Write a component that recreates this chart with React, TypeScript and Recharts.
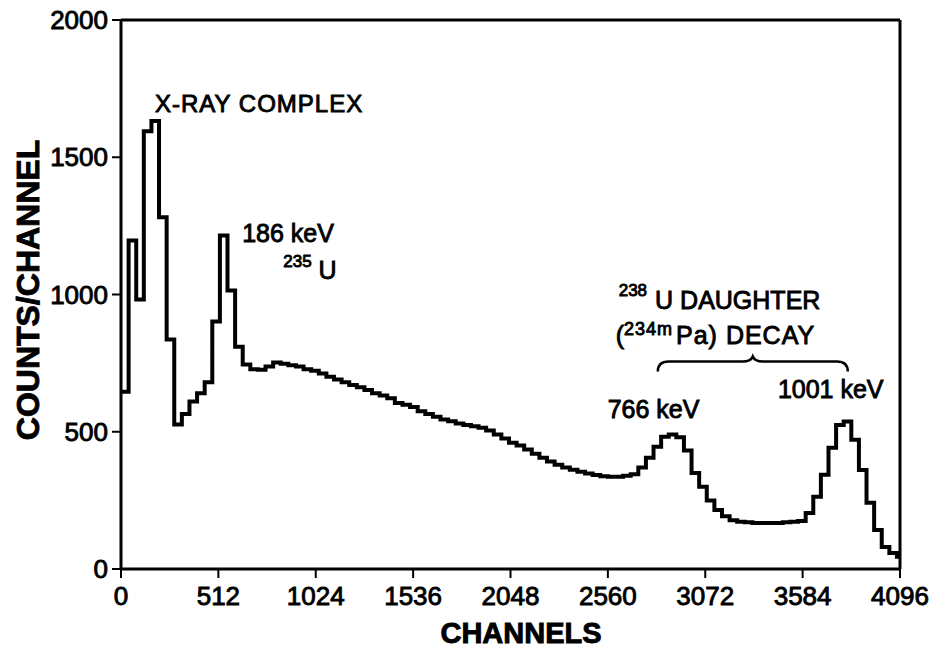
import { LineChart, Line, XAxis, YAxis, ReferenceLine, ReferenceDot, Label } from 'recharts';

// histogram bin width, in channels
const BIN = 40;

// counts per bin (bins of 40 channels starting at 0)
const COUNTS = [
  646, 1197, 982, 1595, 1632, 1281, 836, 526, 565, 610,
  640, 680, 902, 1215, 1015, 810, 745, 728, 726, 738,
  752, 748, 742, 738, 728, 722, 712, 700, 690, 680,
  670, 662, 652, 640, 632, 622, 605, 598, 590, 575,
  565, 555, 545, 538, 530, 525, 520, 515, 505, 490,
  475, 460, 450, 435, 420, 405, 392, 380, 370, 362,
  354, 348, 342, 338, 336, 336, 340, 345, 370, 405,
  445, 482, 490, 480, 432, 350, 300, 250, 215, 192,
  178, 172, 170, 168, 168, 168, 168, 170, 172, 175,
  204, 263, 343, 442, 525, 537, 471, 361, 241, 142,
  80, 58, 45,
];

const X_TICKS = [0, 512, 1024, 1536, 2048, 2560, 3072, 3584, 4096];
const Y_TICKS = [0, 500, 1000, 1500, 2000];

const data = COUNTS.map((v, i) => ({ ch: i * BIN, v }));
// close the last step at the end of the axis
data.push({ ch: 4096, v: COUNTS[COUNTS.length - 1] });

const FONT = '"Liberation Sans", Arial, Helvetica, sans-serif';
const ink = { fontFamily: FONT, fill: '#000', stroke: '#000', strokeWidth: 0.9 };

const tickStyle = { ...ink, fontSize: 26 };

function Brace({ cx, cy }: any) {
  const d = `M${cx - 95},${cy + 10} Q${cx - 95},${cy} ${cx - 84},${cy} L${cx - 10},${cy} Q${cx - 2},${cy} ${cx},${cy - 5} Q${cx + 2},${cy} ${cx + 10},${cy} L${cx + 84},${cy} Q${cx + 95},${cy} ${cx + 95},${cy + 10}`;
  return <path d={d} fill="none" stroke="#000" strokeWidth={2.5} />;
}

export default function App() {
  return (
    <div style={{ position: 'absolute', left: 0, top: 0, background: '#fff' }}>
      <LineChart width={936} height={653} data={data} margin={{ top: 20, right: 36, bottom: 0, left: 0 }}>
        <XAxis
          dataKey="ch"
          type="number"
          domain={[0, 4096]}
          ticks={X_TICKS}
          allowDataOverflow
          height={84}
          axisLine={{ stroke: '#000', strokeWidth: 3 }}
          tickLine={{ stroke: '#000', strokeWidth: 2 }}
          tickSize={9}
          tickMargin={9}
          tick={tickStyle}
        >
          <Label
            content={() => (
              <text x={521} y={643} textAnchor="middle" fontSize={29} fontWeight="bold" {...ink}>
                CHANNELS
              </text>
            )}
          />
        </XAxis>
        <YAxis
          type="number"
          domain={[0, 2000]}
          ticks={Y_TICKS}
          width={121}
          axisLine={{ stroke: '#000', strokeWidth: 3 }}
          tickLine={{ stroke: '#000', strokeWidth: 2 }}
          tickSize={9}
          tickMargin={4}
          tick={tickStyle}
        >
          <Label
            content={() => (
              <text
                x={28}
                y={290}
                transform="rotate(-90 28 290)"
                textAnchor="middle"
                dominantBaseline="central"
                fontSize={32}
                fontWeight="bold"
                {...ink}
              >
                COUNTS/CHANNEL
              </text>
            )}
          />
        </YAxis>

        <ReferenceLine y={2000} stroke="#000" strokeWidth={3} />
        <ReferenceLine x={4096} stroke="#000" strokeWidth={3} />

        <Line
          type="stepAfter"
          dataKey="v"
          stroke="#000"
          strokeWidth={4}
          dot={false}
          isAnimationActive={false}
        />

        {/* annotations */}
        <ReferenceDot x={179} y={1664} r={0} shape={(p: any) => (
          <text x={p.cx} y={p.cy} fontSize={24} letterSpacing={1} {...ink}>X-RAY COMPLEX</text>
        )} />
        <ReferenceDot x={637} y={1190} r={0} shape={(p: any) => (
          <text x={p.cx} y={p.cy} fontSize={25} {...ink}>186 keV</text>
        )} />
        <ReferenceDot x={853} y={1055} r={0} shape={(p: any) => (
          <text x={p.cx} y={p.cy} fontSize={25} {...ink}>
            <tspan fontSize={17} dy={-12}>235</tspan>
            <tspan dx={7} dy={12}>U</tspan>
          </text>
        )} />
        <ReferenceDot x={2617} y={993} r={0} shape={(p: any) => (
          <text x={p.cx} y={p.cy} fontSize={25} {...ink}>
            <tspan fontSize={17}>238</tspan>
            <tspan dx={8} dy={13}>U DAUGHTER</tspan>
          </text>
        )} />
        <ReferenceDot x={2601} y={818} r={0} shape={(p: any) => (
          <text x={p.cx} y={p.cy} fontSize={25} {...ink}>
            (<tspan fontSize={18} dy={-9} letterSpacing={1}>234m</tspan>
            <tspan dx={3} dy={9} letterSpacing={1}>Pa) DECAY</tspan>
          </text>
        )} />
        <ReferenceDot x={3322} y={756} r={0} shape={(p: any) => <Brace cx={p.cx} cy={p.cy} />} />
        <ReferenceDot x={2559} y={551} r={0} shape={(p: any) => (
          <text x={p.cx} y={p.cy} fontSize={25} {...ink}>766 keV</text>
        )} />
        <ReferenceDot x={3454} y={624} r={0} shape={(p: any) => (
          <text x={p.cx} y={p.cy} fontSize={25} {...ink}>1001 keV</text>
        )} />
      </LineChart>
    </div>
  );
}
